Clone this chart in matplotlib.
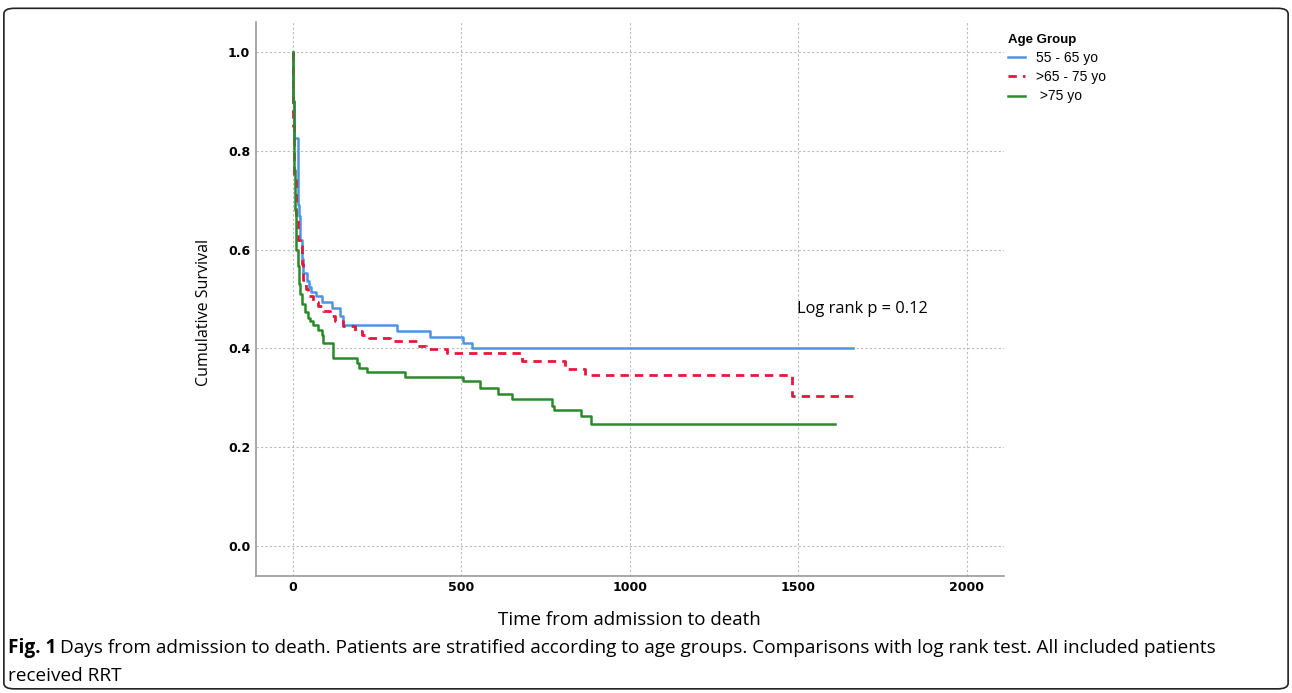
import matplotlib
matplotlib.use("Agg")
import matplotlib.pyplot as plt
from matplotlib.patches import FancyBboxPatch

# Kaplan-Meier steps (day, cumulative survival)
dias_55_65 = [0, 1, 2, 15, 19, 22, 27, 30, 42, 48, 55, 68, 85, 115, 140, 150, 308, 406, 505, 533, 1662]
surv_55_65 = [1.0, 0.90, 0.826, 0.69, 0.667, 0.62, 0.58, 0.553, 0.537, 0.525, 0.515, 0.506, 0.494,
              0.482, 0.465, 0.448, 0.435, 0.424, 0.411, 0.40, 0.40]

dias_65_75 = [0, 1, 4, 8, 15, 21, 26, 31, 40, 45, 60, 75, 90, 110, 125, 150, 185, 205, 225, 288,
              367, 395, 456, 680, 807, 866, 1480, 1672]
surv_65_75 = [1.0, 0.85, 0.75, 0.66, 0.62, 0.607, 0.57, 0.539, 0.52, 0.506, 0.495, 0.485, 0.475,
              0.465, 0.455, 0.446, 0.435, 0.428, 0.421, 0.415, 0.405, 0.398, 0.391, 0.374, 0.358,
              0.347, 0.304, 0.304]

dias_75 = [0, 1, 2, 5, 10, 15, 18, 22, 27, 35, 45, 52, 60, 75, 85, 88, 118, 189, 195, 220, 332,
           505, 555, 609, 649, 768, 775, 855, 886, 1608]
surv_75 = [1.0, 0.90, 0.76, 0.68, 0.60, 0.566, 0.53, 0.51, 0.49, 0.473, 0.462, 0.455, 0.448, 0.438,
           0.428, 0.411, 0.381, 0.371, 0.361, 0.352, 0.342, 0.334, 0.321, 0.307, 0.297, 0.283,
           0.275, 0.263, 0.248, 0.248]

etiquetas = ["55 - 65 yo", ">65 - 75 yo", " >75 yo"]
x_ticks = [0, 500, 1000, 1500, 2000]
y_ticks = [0.0, 0.2, 0.4, 0.6, 0.8, 1.0]

fig = plt.figure(figsize=(12.92, 6.93), dpi=100)
ax = fig.add_axes([0.198, 0.169, 0.579, 0.799])

ax.plot(dias_55_65, surv_55_65, drawstyle="steps-post", color="#4d94e6", lw=1.8, label=etiquetas[0])
ax.plot(dias_65_75, surv_65_75, drawstyle="steps-post", color="#e8163c", lw=2.0,
        dashes=(3, 2.2), label=etiquetas[1])
ax.plot(dias_75, surv_75, drawstyle="steps-post", color="#2a8a2a", lw=1.8, label=etiquetas[2])

ax.set_xlim(-110, 2110)
ax.set_ylim(-0.06, 1.06)
ax.set_xticks(x_ticks)
ax.set_yticks(y_ticks)
ax.set_yticklabels([f"{v:.1f}" for v in y_ticks])
ax.tick_params(length=0, labelsize=9, pad=4)
for lab in ax.get_xticklabels() + ax.get_yticklabels():
    lab.set_fontweight("bold")
    lab.set_family("DejaVu Sans")

ax.grid(True, color="#bbbbbb", linestyle=(0, (2, 2)), lw=0.8)
ax.set_axisbelow(True)
for lado in ["top", "right"]:
    ax.spines[lado].set_visible(False)
for lado in ["left", "bottom"]:
    ax.spines[lado].set_color("#999999")
    ax.spines[lado].set_linewidth(1.2)

ax.set_xlabel("Time from admission to death", family="Open Sans", fontsize=13.5, labelpad=12)
ax.set_ylabel("Cumulative Survival", family="Open Sans", fontsize=11.5)
ax.yaxis.set_label_coords(-0.058, 0.4765)

ax.text(1495, 0.479, "Log rank p = 0.12", family="Open Sans", fontsize=11.8, va="center")

leg = ax.legend(loc="upper left", bbox_to_anchor=(1.0, 0.987), frameon=False, title="Age Group",
                prop={"family": "Liberation Sans", "size": 10}, handlelength=1.2, handletextpad=0.8,
                labelspacing=0.38, borderaxespad=0.0, borderpad=0.3)
leg.get_title().set_fontweight("bold")
leg.get_title().set_family("Liberation Sans")
leg.get_title().set_fontsize(9.5)
leg._legend_box.align = "left"

# caption
fig.canvas.draw()
negrita = fig.text(0.006, 0.065, "Fig. 1", family="Open Sans", fontweight="bold", fontsize=13.65, va="center")
r = fig.canvas.get_renderer()
bb = negrita.get_window_extent(r)
fig.text(bb.x1 / fig.bbox.width + 0.003, 0.065,
         "Days from admission to death. Patients are stratified according to age groups. "
         "Comparisons with log rank test. All included patients",
         family="Open Sans", fontsize=13.65, va="center")
fig.text(0.006, 0.025, "received RRT", family="Open Sans", fontsize=13.65, va="center")

borde = FancyBboxPatch((0.003, 0.006), 0.994, 0.982, boxstyle="round,pad=0,rounding_size=0.008",
                       transform=fig.transFigure, fill=False, edgecolor="#222222", lw=1.2)
fig.patches.append(borde)

fig.savefig("out.png", dpi=100)
